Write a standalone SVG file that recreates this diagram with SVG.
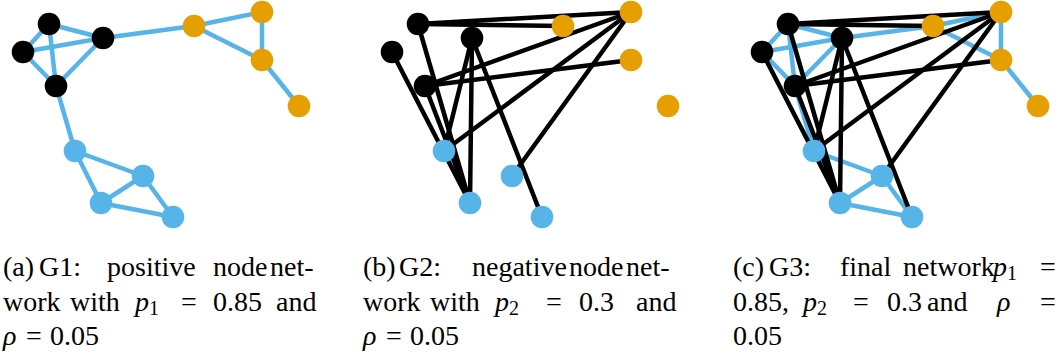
<svg xmlns="http://www.w3.org/2000/svg" width="1061" height="358" viewBox="0 0 1061 358">
<defs>
<g id="posEdges" stroke="#56B4E9" stroke-width="4.5" stroke-linecap="round" fill="none">
<line x1="49" y1="24" x2="23" y2="52"/>
<line x1="49" y1="24" x2="103" y2="38"/>
<line x1="49" y1="24" x2="56" y2="86"/>
<line x1="23" y1="52" x2="103" y2="38"/>
<line x1="23" y1="52" x2="56" y2="86"/>
<line x1="103" y1="38" x2="56" y2="86"/>
<line x1="103" y1="38" x2="194" y2="26"/>
<line x1="194" y1="26" x2="262" y2="12"/>
<line x1="194" y1="26" x2="262" y2="60"/>
<line x1="262" y1="12" x2="262" y2="60"/>
<line x1="262" y1="60" x2="299" y2="106"/>
<line x1="56" y1="86" x2="75" y2="151"/>
<line x1="75" y1="151" x2="143" y2="176"/>
<line x1="75" y1="151" x2="101" y2="203"/>
<line x1="143" y1="176" x2="101" y2="203"/>
<line x1="143" y1="176" x2="173" y2="217"/>
<line x1="101" y1="203" x2="173" y2="217"/>
</g>
<g id="negEdges" stroke="#000000" stroke-width="4.5" stroke-linecap="round" fill="none">
<line x1="49" y1="24" x2="262" y2="12"/>
<line x1="49" y1="24" x2="194" y2="26"/>
<line x1="49" y1="24" x2="101" y2="203"/>
<line x1="23" y1="52" x2="101" y2="203"/>
<line x1="103" y1="38" x2="75" y2="151"/>
<line x1="103" y1="38" x2="101" y2="203"/>
<line x1="103" y1="38" x2="173" y2="217"/>
<line x1="56" y1="86" x2="262" y2="12"/>
<line x1="56" y1="86" x2="262" y2="60"/>
<line x1="56" y1="86" x2="101" y2="203"/>
<line x1="75" y1="151" x2="262" y2="12"/>
<line x1="143" y1="176" x2="262" y2="12"/>
</g>
<g id="nodes">
<circle fill="#000000" cx="49" cy="24" r="11.3"/>
<circle fill="#000000" cx="23" cy="52" r="11.3"/>
<circle fill="#000000" cx="103" cy="38" r="11.3"/>
<circle fill="#000000" cx="56" cy="86" r="11.3"/>
<circle fill="#E69F00" cx="194" cy="26" r="11.3"/>
<circle fill="#E69F00" cx="262" cy="12" r="11.3"/>
<circle fill="#E69F00" cx="262" cy="60" r="11.3"/>
<circle fill="#E69F00" cx="299" cy="106" r="11.3"/>
<circle fill="#56B4E9" cx="75" cy="151" r="11.3"/>
<circle fill="#56B4E9" cx="143" cy="176" r="11.3"/>
<circle fill="#56B4E9" cx="101" cy="203" r="11.3"/>
<circle fill="#56B4E9" cx="173" cy="217" r="11.3"/>
</g>
</defs>

<g id="connectors">
<use href="#posEdges"/>
<use href="#negEdges" transform="translate(369,0)"/>
<use href="#posEdges" transform="translate(739,0)"/>
<use href="#negEdges" transform="translate(739,0)"/>
</g>

<g id="panel-a"><use href="#nodes"/></g>
<g id="panel-b"><use href="#nodes" transform="translate(369,0)"/></g>
<g id="panel-c"><use href="#nodes" transform="translate(739,0)"/></g>

<g id="caption-a">
<text x="3" y="276" style="font-family:'Liberation Serif';font-size:28px">(a)</text>
<text x="39" y="276" style="font-family:'Liberation Serif';font-size:28px">G1:</text>
<text x="107" y="276" style="font-family:'Liberation Serif';font-size:28px">positive</text>
<text x="213" y="276" style="font-family:'Liberation Serif';font-size:28px">node</text>
<text x="270" y="276" style="font-family:'Liberation Serif';font-size:28px">net-</text>
<text x="3" y="311" style="font-family:'Liberation Serif';font-size:28px">work</text>
<text x="70" y="311" style="font-family:'Liberation Serif';font-size:28px">with</text>
<text x="135" y="311" style="font-family:'Liberation Serif';font-size:28px;font-style:italic">p</text>
<text x="149" y="315" style="font-family:'Liberation Serif';font-size:20px">1</text>
<text x="181" y="311" style="font-family:'Liberation Serif';font-size:28px">=</text>
<text x="213" y="311" style="font-family:'Liberation Serif';font-size:28px">0.85</text>
<text x="276" y="311" style="font-family:'Liberation Serif';font-size:28px">and</text>
<text x="3" y="345" style="font-family:'Liberation Serif';font-size:28px;font-style:italic">ρ</text>
<text x="26" y="345" style="font-family:'Liberation Serif';font-size:28px">=</text>
<text x="50" y="345" style="font-family:'Liberation Serif';font-size:28px">0.05</text>
</g>

<g id="caption-b">
<text x="363" y="276" style="font-family:'Liberation Serif';font-size:28px">(b)</text>
<text x="399" y="276" style="font-family:'Liberation Serif';font-size:28px">G2:</text>
<text x="472" y="276" style="font-family:'Liberation Serif';font-size:28px">negative</text>
<text x="569" y="276" style="font-family:'Liberation Serif';font-size:28px">node</text>
<text x="626" y="276" style="font-family:'Liberation Serif';font-size:28px">net-</text>
<text x="363" y="311" style="font-family:'Liberation Serif';font-size:28px">work</text>
<text x="430" y="311" style="font-family:'Liberation Serif';font-size:28px">with</text>
<text x="495" y="311" style="font-family:'Liberation Serif';font-size:28px;font-style:italic">p</text>
<text x="509" y="315" style="font-family:'Liberation Serif';font-size:20px">2</text>
<text x="546" y="311" style="font-family:'Liberation Serif';font-size:28px">=</text>
<text x="579" y="311" style="font-family:'Liberation Serif';font-size:28px">0.3</text>
<text x="636" y="311" style="font-family:'Liberation Serif';font-size:28px">and</text>
<text x="363" y="345" style="font-family:'Liberation Serif';font-size:28px;font-style:italic">ρ</text>
<text x="386" y="345" style="font-family:'Liberation Serif';font-size:28px">=</text>
<text x="410" y="345" style="font-family:'Liberation Serif';font-size:28px">0.05</text>
</g>

<g id="caption-c">
<text x="733" y="276" style="font-family:'Liberation Serif';font-size:28px">(c)</text>
<text x="769" y="276" style="font-family:'Liberation Serif';font-size:28px">G3:</text>
<text x="840" y="276" style="font-family:'Liberation Serif';font-size:28px">final</text>
<text x="903" y="276" style="font-family:'Liberation Serif';font-size:28px">network</text>
<text x="993" y="276" style="font-family:'Liberation Serif';font-size:28px;font-style:italic">p</text>
<text x="1007" y="280" style="font-family:'Liberation Serif';font-size:20px">1</text>
<text x="1040" y="276" style="font-family:'Liberation Serif';font-size:28px">=</text>
<text x="733" y="311" style="font-family:'Liberation Serif';font-size:28px">0.85,</text>
<text x="803" y="311" style="font-family:'Liberation Serif';font-size:28px;font-style:italic">p</text>
<text x="817" y="315" style="font-family:'Liberation Serif';font-size:20px">2</text>
<text x="853" y="311" style="font-family:'Liberation Serif';font-size:28px">=</text>
<text x="887" y="311" style="font-family:'Liberation Serif';font-size:28px">0.3</text>
<text x="927" y="311" style="font-family:'Liberation Serif';font-size:28px">and</text>
<text x="997" y="311" style="font-family:'Liberation Serif';font-size:28px;font-style:italic">ρ</text>
<text x="1040" y="311" style="font-family:'Liberation Serif';font-size:28px">=</text>
<text x="733" y="345" style="font-family:'Liberation Serif';font-size:28px">0.05</text>
</g>
</svg>
